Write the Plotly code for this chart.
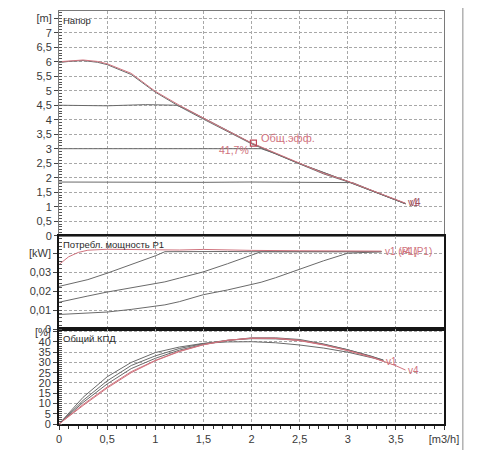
import plotly.graph_objects as go

# --- data --------------------------------------------------------------
# head, m
q_head_max = [0, 0.1, 0.25, 0.4, 0.5, 0.75, 1.0, 1.25, 1.5, 1.75, 2.0, 2.25, 2.5, 2.75, 3.0, 3.25, 3.5, 3.6]
h_red = [6.0, 6.03, 6.06, 6.01, 5.93, 5.6, 4.98, 4.5, 4.05, 3.62, 3.2, 2.85, 2.5, 2.15, 1.88, 1.57, 1.25, 1.12]
h_gray_max = [5.97, 6.01, 6.04, 5.98, 5.9, 5.56, 4.95, 4.46, 4.02, 3.59, 3.17, 2.82, 2.47, 2.13, 1.86, 1.55, 1.22, 1.1]
q_head_45 = [0, 0.5, 0.9, 1.22, 1.3, 1.5, 1.75, 2.0, 2.5, 3.0, 3.5, 3.6]
h_gray_45 = [4.5, 4.48, 4.52, 4.5, 4.4, 4.07, 3.63, 3.19, 2.48, 1.87, 1.23, 1.1]
q_head_30 = [0, 0.5, 1.0, 1.5, 2.1, 2.25, 2.5, 3.0, 3.5, 3.6]
h_gray_30 = [3.0, 3.0, 3.0, 3.0, 3.0, 2.83, 2.49, 1.87, 1.24, 1.11]
q_head_18 = [0, 0.5, 1.0, 1.5, 2.0, 2.5, 3.05, 3.25, 3.5, 3.6]
h_gray_18 = [1.85, 1.84, 1.83, 1.84, 1.85, 1.84, 1.83, 1.56, 1.24, 1.1]

# power P1, kW
q_pow_red = [0, 0.05, 0.1, 0.2, 0.3, 0.5, 0.75, 1.0, 1.25, 1.5, 1.75, 2.0, 2.5, 3.0, 3.35]
p_red = [0.0342, 0.0362, 0.0383, 0.0406, 0.0418, 0.0423, 0.0421, 0.0419, 0.0419, 0.0422, 0.0419, 0.0417, 0.0415, 0.0414, 0.0413]
q_pow = [0, 0.1, 0.3, 0.5, 0.75, 1.0, 1.1, 1.25, 1.5, 1.75, 2.0, 2.1, 2.25, 2.5, 2.75, 3.0, 3.35]
p_gray_b = [0.0226, 0.0238, 0.0262, 0.0296, 0.034, 0.0388, 0.041, 0.0411, 0.0412, 0.0411, 0.041, 0.041, 0.041, 0.041, 0.041, 0.041, 0.041]
p_gray_c = [0.0142, 0.0152, 0.0175, 0.0196, 0.0217, 0.024, 0.025, 0.027, 0.0303, 0.0346, 0.039, 0.041, 0.041, 0.041, 0.041, 0.041, 0.041]
p_gray_d = [0.0077, 0.0079, 0.0084, 0.009, 0.0104, 0.0121, 0.0128, 0.0145, 0.0182, 0.0207, 0.0235, 0.0248, 0.0272, 0.0317, 0.0362, 0.0402, 0.041]

# overall efficiency, %
q_eff = [0, 0.25, 0.5, 0.75, 1.0, 1.25, 1.5, 1.75, 2.0, 2.25, 2.5, 2.75, 3.0, 3.25, 3.37]
e_gray_1 = [0, 13, 23, 30, 34.8, 37.5, 39.3, 40.0, 40.1, 39.6, 38.5, 37, 35, 32.5, 31]
e_gray_2 = [0, 11.5, 21, 28.5, 33.2, 36.8, 39.2, 40.8, 41.6, 41.5, 40.8, 38.8, 36.2, 33, 31]
e_gray_3 = [0, 10.5, 19.5, 27, 32, 36, 38.8, 40.7, 42, 42, 41.2, 39, 36.2, 33, 31.2]
e_red_1 = [0, 9.5, 18, 25.5, 31, 35.5, 38.7, 40.8, 41.8, 41.8, 40.8, 38.6, 35.8, 32.5, 30.5]
q_eff_v4 = [0, 0.25, 0.5, 0.75, 1.0, 1.25, 1.5, 1.75, 2.0, 2.25, 2.5, 2.75, 3.0, 3.25, 3.5, 3.6]
e_red_4 = [0, 9, 17.5, 25, 30.8, 35.3, 38.6, 40.8, 41.8, 41.7, 40.6, 38.5, 35.8, 32.6, 28.4, 26.3]

# operating point
duty_q = [2.02]
duty_h = [3.19]

# ticks
x_ticks = [0, 0.5, 1, 1.5, 2, 2.5, 3, 3.5, 4]
x_ticktext = ["0", "0,5", "1", "1,5", "2", "2,5", "3", "3,5", "[m3/h]"]
h_ticks = [0, 0.5, 1, 1.5, 2, 2.5, 3, 3.5, 4, 4.5, 5, 5.5, 6, 6.5, 7, 7.5]
h_ticktext = ["0", "0,5", "1", "1,5", "2", "2,5", "3", "3,5", "4", "4,5", "5", "5,5", "6", "6,5", "7", "[m]"]
p_ticks = [0, 0.01, 0.02, 0.03, 0.04]
p_ticktext = ["0", "0,01", "0,02", "0,03", "[kW]"]
e_ticks = [0, 5, 10, 15, 20, 25, 30, 35, 40, 45]
e_ticktext = ["0", "5", "10", "15", "20", "25", "30", "35", "40", "[%]"]

RED = "#d0737e"
GRAY = "#6a6a6a"
GRID = "#a8a8a8"
FONT = dict(family="Liberation Sans, Arial, sans-serif", size=11, color="#3a3a3a")

fig = go.Figure()


def line(x, y, color, xa, ya, width=1):
    fig.add_trace(go.Scatter(x=x, y=y, mode="lines", xaxis=xa, yaxis=ya,
                             line=dict(color=color, width=width), showlegend=False,
                             hoverinfo="skip"))


# head panel
line(q_head_18, h_gray_18, GRAY, "x", "y")
line(q_head_30, h_gray_30, GRAY, "x", "y")
line(q_head_45, h_gray_45, GRAY, "x", "y")
line(q_head_max, h_gray_max, GRAY, "x", "y")
line(q_head_max, h_red, RED, "x", "y")
fig.add_trace(go.Scatter(x=duty_q, y=duty_h, mode="markers", xaxis="x", yaxis="y",
                         marker=dict(symbol="square-open", size=6, color="#c04858", line=dict(width=1.2)),
                         showlegend=False, hoverinfo="skip"))

# power panel
for p in (p_gray_d, p_gray_c, p_gray_b):
    line(q_pow, p, GRAY, "x2", "y2")
line(q_pow_red, p_red, RED, "x2", "y2")

# efficiency panel
for e in (e_gray_1, e_gray_2, e_gray_3):
    line(q_eff, e, GRAY, "x3", "y3")
line(q_eff, e_red_1, RED, "x3", "y3")
line(q_eff_v4, e_red_4, RED, "x3", "y3")

# the page has an 8px body margin, margins below account for it
d3 = [0, 0.230]
d2 = [0.230, 0.456]
d1 = [0.456, 1]

xbase = dict(range=[0, 4], tickmode="array", tickvals=x_ticks, showgrid=True,
             gridcolor=GRID, griddash="3px,2px", gridwidth=1, zeroline=False,
             showline=True, mirror=True, fixedrange=True)
ybase = dict(tickmode="array", ticks="outside", ticklen=4, tickcolor="#444",
             showgrid=True, gridcolor=GRID, griddash="3px,2px", zeroline=False,
             showline=True, mirror=True, fixedrange=True)

fig.update_layout(
    width=500, height=450,
    margin=dict(l=51, r=64, t=0, b=34),
    paper_bgcolor="white", plot_bgcolor="white",
    font=FONT,
    xaxis=dict(xbase, anchor="y", showticklabels=False, linecolor="#7a7a7a", linewidth=1),
    xaxis2=dict(xbase, anchor="y2", matches="x", showticklabels=False, linecolor="#151515", linewidth=1.5),
    xaxis3=dict(xbase, anchor="y3", matches="x", ticktext=x_ticktext, ticks="outside",
                ticklen=4, tickcolor="#333", linecolor="#151515", linewidth=2,
                minor=dict(dtick=0.1, tick0=0, ticks="outside", ticklen=3, tickcolor="#333", showgrid=False)),
    yaxis=dict(ybase, domain=d1, anchor="x", range=[0, 7.75], tickvals=h_ticks,
               ticktext=h_ticktext, linecolor="#7a7a7a",
               minor=dict(dtick=0.1, tick0=0, ticks="inside", ticklen=3, tickcolor="#555", showgrid=False)),
    yaxis2=dict(ybase, domain=d2, anchor="x2", range=[0, 0.0495], tickvals=p_ticks,
                ticktext=p_ticktext, linecolor="#151515", linewidth=1.5,
                minor=dict(dtick=0.002, tick0=0, ticks="inside", ticklen=3, tickcolor="#555", showgrid=False)),
    yaxis3=dict(ybase, domain=d3, anchor="x3", range=[0, 46.3], tickvals=e_ticks,
                ticktext=e_ticktext, linecolor="#151515", linewidth=2,
                minor=dict(dtick=1, tick0=0, ticks="inside", ticklen=3, tickcolor="#555", showgrid=False)),
)

# panel titles
TFONT = dict(FONT, size=9.5, color="#2a2a2a")
for txt, top in (("Напор", d1[1]), ("Потребл. мощность P1", d2[1]), ("Общий КПД", d3[1])):
    fig.add_annotation(text=txt, xref="paper", yref="paper", x=0.006, y=top - 0.004,
                       xanchor="left", yanchor="top", showarrow=False, font=TFONT)

RFONT = dict(family=FONT["family"], size=10, color=RED)
fig.add_annotation(text="Общ.эфф.", x=2.08, y=3.37, xref="x", yref="y", xanchor="left",
                   showarrow=False, font=dict(RFONT, size=11))
fig.add_annotation(text="41,7%", x=1.99, y=2.96, xref="x", yref="y", xanchor="right",
                   showarrow=False, font=dict(RFONT, size=10.5))
fig.add_annotation(text="v1", x=3.6, y=1.13, xref="x", yref="y", xanchor="left",
                   showarrow=False, font=dict(RFONT, color="#a05060"))
fig.add_annotation(text="v4", x=3.63, y=1.13, xref="x", yref="y", xanchor="left",
                   showarrow=False, font=dict(RFONT, color="#a05060"))
fig.add_annotation(text="v1 (P1)", x=3.37, y=0.041, xref="x2", yref="y2", xanchor="left",
                   showarrow=False, font=RFONT)
fig.add_annotation(text="v4 (P1)", x=3.52, y=0.041, xref="x2", yref="y2", xanchor="left",
                   showarrow=False, font=RFONT)
fig.add_annotation(text="v1", x=3.38, y=30.5, xref="x3", yref="y3", xanchor="left",
                   showarrow=False, font=RFONT)
fig.add_annotation(text="v4", x=3.6, y=26, xref="x3", yref="y3", xanchor="left",
                   showarrow=False, font=RFONT)

# outer frame line at the right
fig.add_shape(type="line", xref="paper", yref="paper", x0=1.049, x1=1.049, y0=-0.09, y1=1.02,
              line=dict(color="#8a8a8a", width=1))

fig.write_html("out.html")
